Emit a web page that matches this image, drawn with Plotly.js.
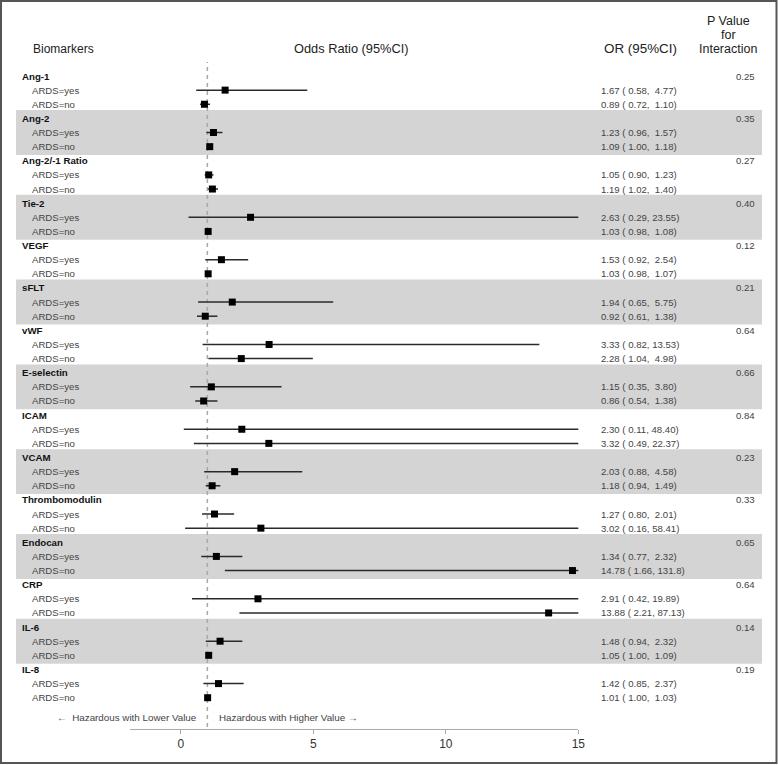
<!DOCTYPE html>
<html>
<head>
<meta charset="utf-8">
<script src="https://cdn.plot.ly/plotly-3.0.1.min.js"></script>
<style>html,body{margin:0;padding:0;background:#fff;}#chart{width:778px;height:765px;}</style>
</head>
<body>
<div id="chart"></div>
<script>
// ---- Data ----
const biomarkers = ["Ang-1","Ang-2","Ang-2/-1 Ratio","Tie-2","VEGF","sFLT","vWF","E-selectin","ICAM","VCAM","Thrombomodulin","Endocan","CRP","IL-6","IL-8"];
const subgroups = ["ARDS=yes","ARDS=no"];
const orYes = [1.67,1.23,1.05,2.63,1.53,1.94,3.33,1.15,2.30,2.03,1.27,1.34,2.91,1.48,1.42];
const loYes = [0.58,0.96,0.90,0.29,0.92,0.65,0.82,0.35,0.11,0.88,0.80,0.77,0.42,0.94,0.85];
const hiYes = [4.77,1.57,1.23,23.55,2.54,5.75,13.53,3.80,48.40,4.58,2.01,2.32,19.89,2.32,2.37];
const orNo  = [0.89,1.09,1.19,1.03,1.03,0.92,2.28,0.86,3.32,1.18,3.02,14.78,13.88,1.05,1.01];
const loNo  = [0.72,1.00,1.02,0.98,0.98,0.61,1.04,0.54,0.49,0.94,0.16,1.66,2.21,1.00,1.00];
const hiNo  = [1.10,1.18,1.40,1.08,1.07,1.38,4.98,1.38,22.37,1.49,58.41,131.8,87.13,1.09,1.03];
const pInteraction = ["0.25","0.35","0.27","0.40","0.12","0.21","0.64","0.66","0.84","0.23","0.33","0.65","0.64","0.14","0.19"];
const xTicks = [0,5,10,15];
const REF_OR = 1;

// ---- Layout helpers ----
const W = 778, H = 765;
const px = v => v / W;
const py = v => 1 - v / H;
const ROW0 = 76, ROWH = 14.13, AXIS_Y = 729;
const yTop = -ROW0 / ROWH;
const yBot = yTop + AXIS_Y / ROWH;

function fmt(v){
  let s = v >= 100 ? v.toFixed(1) : v.toFixed(2);
  while (s.length < 5) s = "\u00A0" + s;
  return s;
}
function ciText(o,l,h){ return o.toFixed(2) + " (" + fmt(l) + ",\u00A0" + fmt(h) + ")"; }

const FONT = "Liberation Sans, Arial, sans-serif";
const ciX = [], ciY = [], mX = [], mY = [];
const annotations = [];
const shapes = [];

biomarkers.forEach((b, i) => {
  const h = i * 3;
  const rows = [
    {r: h + 1, o: orYes[i], l: loYes[i], u: hiYes[i], lab: subgroups[0]},
    {r: h + 2, o: orNo[i],  l: loNo[i],  u: hiNo[i],  lab: subgroups[1]}
  ];
  if (i % 2 === 1) {
    shapes.push({type:"rect", layer:"below", xref:"paper", yref:"y",
      x0: px(16), x1: px(762), y0: h - 0.59, y1: h + 2.59,
      fillcolor:"#d4d4d4", line:{width:0}});
  }
  annotations.push({xref:"paper", yref:"y", x: px(20), y: h, text: "<b>" + b + "</b>",
    showarrow:false, xanchor:"left", yanchor:"middle", font:{family:FONT, size:9.7, color:"#111"}});
  annotations.push({xref:"paper", yref:"y", x: px(757), y: h, text: pInteraction[i],
    showarrow:false, xanchor:"right", yanchor:"middle", font:{family:FONT, size:9.6, color:"#444"}});
  rows.forEach(rw => {
    ciX.push(rw.l, rw.u, null); ciY.push(rw.r, rw.r, null);
    mX.push(rw.o); mY.push(rw.r);
    annotations.push({xref:"paper", yref:"y", x: px(30), y: rw.r, text: rw.lab,
      showarrow:false, xanchor:"left", yanchor:"middle", font:{family:FONT, size:9.6, color:"#444"}});
    annotations.push({xref:"paper", yref:"y", x: px(599), y: rw.r, text: ciText(rw.o, rw.l, rw.u),
      showarrow:false, xanchor:"left", yanchor:"middle", font:{family:FONT, size:9.6, color:"#444"}});
  });
});

// headers
const hdr = (x, y, t, anchor, size) => annotations.push({xref:"paper", yref:"paper", x: px(x), y: py(y), text:t,
  showarrow:false, xanchor:anchor, yanchor:"middle", font:{family:FONT, size:size, color:"#222"}});
hdr(31, 49, "Biomarkers", "left", 12);
hdr(351, 49, "Odds Ratio (95%CI)", "center", 12.8);
hdr(679, 49, "OR (95%CI)", "right", 13.4);
hdr(728, 21, "P Value", "center", 12.5);
hdr(728, 35, "for", "center", 12.5);
hdr(728, 49, "Interaction", "center", 12.5);

// hazard notes
annotations.push({xref:"paper", yref:"paper", x: px(199), y: py(717.5), text:"\u2190\u00A0 Hazardous with Lower Value",
  showarrow:false, xanchor:"right", yanchor:"middle", font:{family:FONT, size:9.8, color:"#444"}});
annotations.push({xref:"paper", yref:"paper", x: px(217), y: py(717.5), text:"Hazardous with Higher Value \u2192",
  showarrow:false, xanchor:"left", yanchor:"middle", font:{family:FONT, size:9.8, color:"#444"}});

// reference line
shapes.push({type:"line", layer:"below", xref:"x", yref:"paper", x0: REF_OR, x1: REF_OR,
  y0: py(727), y1: py(62), line:{color:"#a8a8a8", width:1.5, dash:"4px,4px"}});

// frame
shapes.push({type:"rect", xref:"paper", yref:"paper", x0: px(1), x1: px(776.5), y0: py(763), y1: py(1),
  line:{color:"#555", width:2}, fillcolor:"rgba(0,0,0,0)"});

const traces = [
  {type:"scatter", mode:"lines", x: ciX, y: ciY, line:{color:"#2a2a2a", width:1.5},
   hoverinfo:"skip", showlegend:false},
  {type:"scatter", mode:"markers", x: mX, y: mY, marker:{symbol:"square", size:7, color:"#000"},
   showlegend:false, cliponaxis:false}
];

const xMin = -1.92;
const layout = {
  width: W, height: H,
  margin:{l:0, r:0, t:0, b:0},
  paper_bgcolor:"#fff", plot_bgcolor:"rgba(0,0,0,0)",
  showlegend:false,
  xaxis:{domain:[px(130), px(578.3)], range:[xMin, 15], tickvals: xTicks, ticktext: xTicks.map(String),
    showgrid:false, zeroline:false, showline:true, linecolor:"#aaa", linewidth:1,
    ticks:"outside", ticklen:4, tickcolor:"#aaa", tickfont:{family:FONT, size:12, color:"#333"}, fixedrange:true},
  yaxis:{domain:[(H - AXIS_Y) / H, 1], range:[yBot, yTop], showgrid:false, zeroline:false,
    showline:false, showticklabels:false, ticks:"", fixedrange:true},
  shapes: shapes,
  annotations: annotations
};

Plotly.newPlot("chart", traces, layout, {displayModeBar:false, staticPlot:true});
</script>
</body>
</html>
